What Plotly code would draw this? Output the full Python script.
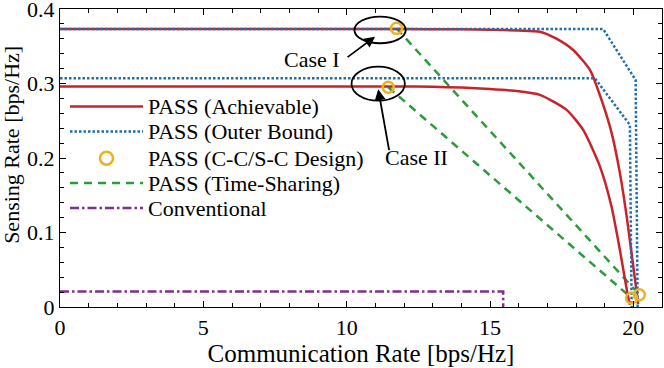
import plotly.graph_objects as go

# ---------------- data ----------------
ach1_x = [0, 12, 14, 15, 16, 16.74, 17.3, 17.9, 18.49, 18.89, 19.24, 19.53, 19.77, 20.0, 20.17]
ach1_y = [0.373, 0.373, 0.3728, 0.3722, 0.371, 0.3695, 0.3605, 0.345, 0.318, 0.278, 0.234, 0.180, 0.121, 0.054, 0.004]
ach2_x = [0, 12, 13, 14, 15, 16, 16.74, 17.67, 18.25, 18.84, 19.24, 19.53, 19.79, 19.88]
ach2_y = [0.296, 0.296, 0.2955, 0.2945, 0.2925, 0.2895, 0.2847, 0.2646, 0.2377, 0.188, 0.1345, 0.0768, 0.0192, 0.003]
ob1_x = [0, 18.95, 20.08, 20.15]
ob1_y = [0.373, 0.373, 0.3047, 0.0]
ob2_x = [0, 18.66, 19.88, 19.94]
ob2_y = [0.307, 0.307, 0.2444, 0.0]
ccsc_x = [11.74, 20.21, 11.45, 19.94]
ccsc_y = [0.374, 0.0165, 0.295, 0.012]
ts1_x = [11.74, 20.21]
ts1_y = [0.374, 0.0165]
ts2_x = [11.45, 19.94]
ts2_y = [0.295, 0.012]
conv_x = [0, 15.46, 15.46]
conv_y = [0.0209, 0.0209, 0.0]

x_ticks = [0, 5, 10, 15, 20]
y_ticks = [0, 0.1, 0.2, 0.3, 0.4]
y_tick_text = ["0", "0.1", "0.2", "0.3", "0.4"]
legend_names = ["PASS (Achievable)", "PASS (Outer Bound)", "PASS (C-C/S-C Design)",
                "PASS (Time-Sharing)", "Conventional"]

RED = "#C8232B"
BLUE = "#1F6FAE"
YEL = "#EDB120"
GRN = "#2E9A3A"
PUR = "#7E2F8E"
FONT = "Liberation Serif, Times New Roman, Tinos, serif"

fig = go.Figure()
# Conventional
fig.add_trace(go.Scatter(x=conv_x, y=conv_y, mode="lines",
                         line=dict(color=PUR, width=2.5, dash="9px,3px,2.5px,3px"), showlegend=False))
# Time sharing
for xs, ys in [(ts1_x, ts1_y), (ts2_x, ts2_y)]:
    fig.add_trace(go.Scatter(x=xs, y=ys, mode="lines",
                             line=dict(color=GRN, width=2.5, dash="8px,6px"), showlegend=False))
# Achievable
for xs, ys in [(ach1_x, ach1_y), (ach2_x, ach2_y)]:
    fig.add_trace(go.Scatter(x=xs, y=ys, mode="lines", line_shape="spline",
                             line=dict(color=RED, width=2.5, smoothing=0.6), showlegend=False))
# Outer bound
for xs, ys in [(ob1_x, ob1_y), (ob2_x, ob2_y)]:
    fig.add_trace(go.Scatter(x=xs, y=ys, mode="lines",
                             line=dict(color=BLUE, width=2.5, dash="2.5px,2px"), showlegend=False))
# C-C / S-C design points
fig.add_trace(go.Scatter(x=ccsc_x, y=ccsc_y, mode="markers",
                         marker=dict(symbol="circle-open", size=11, color=YEL, line=dict(width=2.5, color=YEL)),
                         showlegend=False))

# ---------------- manual legend (paper coordinates) ----------------
L = 60.0; W = 602.0; B = 307.3; H = 298.3
def px(xp):
    return (xp - L) / W
def py(yp):
    return (B - yp) / H

rows = [106.7, 131.7, 158.3, 183.3, 208.3]
styles = [dict(color=RED, width=2.5), dict(color=BLUE, width=2.5, dash="2.5px,2px"), None,
          dict(color=GRN, width=2.5, dash="8px,6px"), dict(color=PUR, width=2.5, dash="9px,3px,2.5px,3px")]
for name, yr, st in zip(legend_names, rows, styles):
    if st is not None:
        fig.add_shape(type="line", xref="paper", yref="paper", x0=px(70), x1=px(143),
                      y0=py(yr), y1=py(yr), line=st)
    else:
        fig.add_shape(type="circle", xref="paper", yref="paper", xsizemode="pixel", ysizemode="pixel",
                      xanchor=px(106.5), yanchor=py(yr), x0=-6.5, x1=6.5, y0=-6.5, y1=6.5,
                      line=dict(color=YEL, width=2.5))
    fig.add_annotation(xref="paper", yref="paper", x=px(145.5), y=py(yr), text=name, showarrow=False,
                       xanchor="left", yanchor="middle", font=dict(family=FONT, size=22, color="black"))

# ---------------- ellipses, arrows, labels ----------------
fig.add_shape(type="circle", xref="x", yref="y", x0=10.27, x1=12.06, y0=0.354, y1=0.3897,
              line=dict(color="black", width=1.8))
fig.add_shape(type="circle", xref="x", yref="y", x0=10.17, x1=12.03, y0=0.277, y1=0.3226,
              line=dict(color="black", width=1.8))
fig.add_annotation(x=10.99, y=0.3628, ax=9.98, ay=0.3339, xref="x", yref="y", axref="x", ayref="y",
                   text="", showarrow=True, arrowhead=2, arrowsize=1.2, arrowwidth=1.8, arrowcolor="black")
fig.add_annotation(x=11.10, y=0.2923, ax=11.49, ay=0.2086, xref="x", yref="y", axref="x", ayref="y",
                   text="", showarrow=True, arrowhead=2, arrowsize=1.2, arrowwidth=1.8, arrowcolor="black")
fig.add_annotation(x=8.78, y=0.3316, text="Case I", showarrow=False, xanchor="center", yanchor="middle",
                   font=dict(family=FONT, size=22, color="black"))
fig.add_annotation(x=12.42, y=0.2002, text="Case II", showarrow=False, xanchor="center", yanchor="middle",
                   font=dict(family=FONT, size=22, color="black"))

# y-axis title as rotated text (placed like the reference, slightly above centre)
fig.add_annotation(xref="paper", yref="paper", x=px(12), y=py(145), text="Sensing Rate [bps/Hz]",
                   textangle=-90, showarrow=False, xanchor="center", yanchor="middle",
                   font=dict(family=FONT, size=22, color="black"))

axis_common = dict(showgrid=False, zeroline=False, showline=True, linecolor="black", linewidth=1.3,
                   mirror="allticks", ticks="inside", ticklen=6, tickwidth=1, tickcolor="black",
                   automargin=False, ticklabeloverflow="allow",
                   tickfont=dict(family=FONT, size=22, color="black"))
fig.update_xaxes(range=[0, 21], tickvals=x_ticks, ticktext=[str(v) for v in x_ticks],
                 minor=dict(ticks="inside", dtick=1, ticklen=3.5, tickcolor="black", tickwidth=1),
                 title=dict(text="Communication Rate [bps/Hz]", font=dict(family=FONT, size=25, color="black"),
                            standoff=1),
                 **axis_common)
fig.update_yaxes(range=[-1e-6, 0.400001], tickvals=y_ticks, ticktext=y_tick_text,
                 minor=dict(ticks="inside", dtick=0.02, ticklen=3.5, tickcolor="black", tickwidth=1),
                 **axis_common)
fig.update_layout(width=664, height=368, margin=dict(l=60, r=2, t=9, b=61, pad=0),
                  plot_bgcolor="white", paper_bgcolor="white", showlegend=False,
                  font=dict(family=FONT, color="black"))
fig.write_html("out.html", config={"displayModeBar": False},
               post_script="document.body.style.margin='0px';document.body.style.overflow='hidden';")
